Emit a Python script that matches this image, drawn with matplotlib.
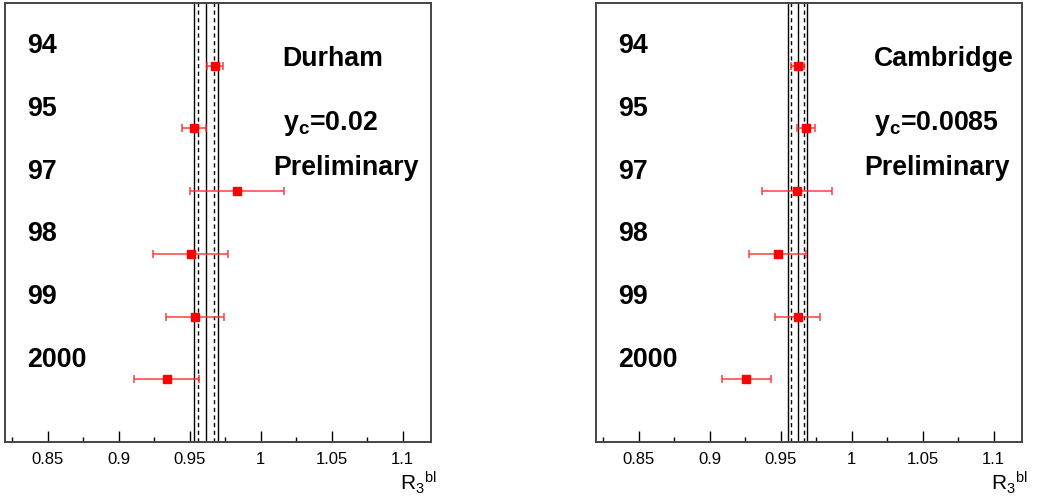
import matplotlib
matplotlib.use("Agg")
import matplotlib.pyplot as plt
from matplotlib.ticker import MultipleLocator, FixedFormatter, FixedLocator

plt.rcParams['font.family'] = ['Liberation Sans', 'DejaVu Sans']
plt.rcParams['mathtext.fontset'] = 'custom'
plt.rcParams['mathtext.rm'] = 'Liberation Sans'
plt.rcParams['mathtext.bf'] = 'Liberation Sans:bold'
plt.rcParams['mathtext.it'] = 'Liberation Sans:italic'

# years, top to bottom
years = ["94", "95", "97", "98", "99", "2000"]
ypos = [6, 5, 4, 3, 2, 1]

# Durham, y_c = 0.02
durham_val = [0.9676, 0.9530, 0.9833, 0.9507, 0.9540, 0.9338]
durham_err = [0.0056, 0.0083, 0.0330, 0.0264, 0.0205, 0.0230]
durham_mean = 0.9616
durham_tot = 0.0086
durham_stat = 0.0055

# Cambridge, y_c = 0.0085
cambridge_val = [0.9622, 0.9681, 0.9615, 0.9479, 0.9620, 0.9258]
cambridge_err = [0.0045, 0.0064, 0.0247, 0.0198, 0.0156, 0.0172]
cambridge_mean = 0.9620
cambridge_tot = 0.0068
cambridge_stat = 0.0044

xticks = [0.85, 0.9, 0.95, 1.0, 1.05, 1.1]
xticklabels = ["0.85", "0.9", "0.95", "1", "1.05", "1.1"]

BIG = 19.3

fig = plt.figure(figsize=(10.37, 5.01), dpi=100)


def draw_panel(rect, vals, errs, mean, tot, stat, algo, ycut):
    ax = fig.add_axes(rect)
    ax.set_xlim(0.82, 1.12)
    ax.set_ylim(0, 7)

    # average with total and statistical bands
    ax.axvline(mean, color='black', lw=1)
    for s in (-1, 1):
        ax.axvline(mean + s * tot, color='black', lw=1)
        ax.axvline(mean + s * stat, color='black', lw=1, ls=(0, (3, 2.5)))

    ax.errorbar(vals, ypos, xerr=errs, fmt='s', color='red', ms=6,
                ecolor=(1, 0.2, 0.2, 0.8), elinewidth=1.3, capsize=3,
                capthick=1.3, zorder=5)

    for y, lab in zip(ypos, years):
        ax.text(0.8355, y + 0.2, lab, fontsize=BIG, fontweight='bold',
                ha='left', va='baseline')

    ax.text(0.652, 0.857, algo, transform=ax.transAxes, fontsize=BIG,
            fontweight='bold', ha='left', va='baseline')
    ax.text(0.652, 0.711, r'$\mathbf{y_c}$=' + ycut,
            transform=ax.transAxes, fontsize=BIG, fontweight='bold',
            ha='left', va='baseline')
    ax.text(0.630, 0.608, 'Preliminary', transform=ax.transAxes,
            fontsize=BIG, fontweight='bold', ha='left', va='baseline')

    ax.xaxis.set_major_locator(FixedLocator(xticks))
    ax.xaxis.set_major_formatter(FixedFormatter(xticklabels))
    ax.xaxis.set_minor_locator(MultipleLocator(0.025))
    ax.tick_params(axis='x', which='major', direction='in', length=8,
                   width=1, labelsize=12, pad=7, top=False)
    ax.tick_params(axis='x', which='minor', direction='in', length=3.6,
                   width=1, top=False)
    ax.set_yticks([])
    for sp in ax.spines.values():
        sp.set_color('#444444')
        sp.set_linewidth(1.4)

    ax.text(1.014, -0.109, r'R$_3$$^{\rm bl}$', transform=ax.transAxes,
            fontsize=15, ha='right', va='baseline')
    return ax


draw_panel([0.0048, 0.1178, 0.4108, 0.8762], durham_val, durham_err,
           durham_mean, durham_tot, durham_stat, 'Durham', '0.02')
draw_panel([0.5747, 0.1178, 0.4108, 0.8762], cambridge_val, cambridge_err,
           cambridge_mean, cambridge_tot, cambridge_stat, 'Cambridge', '0.0085')

fig.savefig('out.png', dpi=100)
